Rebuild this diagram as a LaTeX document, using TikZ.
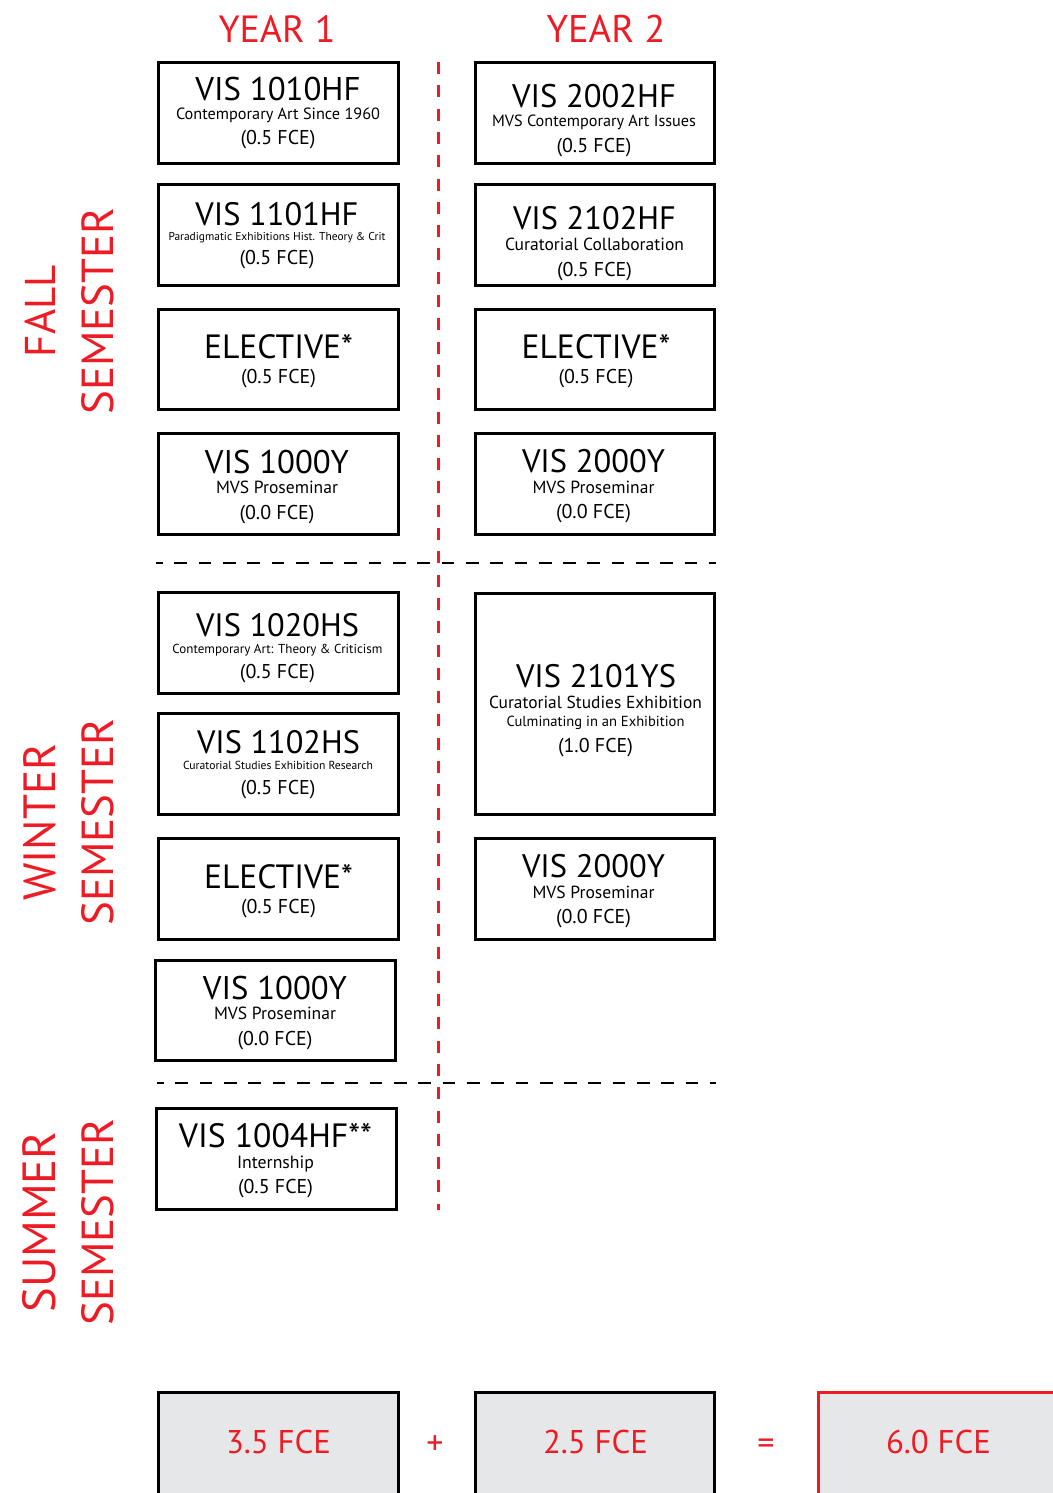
\documentclass[tikz,border=0pt]{standalone}
\usepackage{fontspec}
\setmainfont{PT Sans}
\usepackage{graphicx}
\definecolor{myred}{HTML}{ED1C24}
\definecolor{mygray}{HTML}{E6E7E8}
\newcommand{\tw}[2]{\resizebox{#1pt}{!}{#2}}
\begin{document}
\begin{tikzpicture}[x=1pt,y=-1pt,
  box/.style={draw=black, line width=3pt, inner sep=0pt, minimum width=240pt, minimum height=101pt},
  rbox/.style={box, minimum width=239pt},
  sumbox/.style={box, fill=mygray, minimum height=120pt},
  totbox/.style={sumbox, draw=myred},
  txt/.style={inner sep=0pt, outer sep=0pt, anchor=base, font=\fontsize{20}{24}\selectfont},
  rtxt/.style={txt, text=myred},
  side/.style={rtxt, rotate=90},
  semline/.style={draw=black, line width=1.6pt, dash pattern=on 12.7pt off 11.6pt, dash phase=6pt},
  yearline/.style={draw=myred, line width=3pt, dash pattern=on 12pt off 11.3pt}]
\useasboundingbox (0,0) rectangle (1052,1493);

% headings
\node[rtxt] (y1) at (277,43) {\tw{117}{YEAR 1}};
\node[rtxt] (y2) at (606,43) {\tw{119}{YEAR 2}};

% side labels
\node[side] (fall) at (55,311) {\tw{92}{FALL}};
\node[side] (sem1) at (113,311) {\tw{207}{SEMESTER}};
\node[side] (wint) at (55,822) {\tw{157}{WINTER}};
\node[side] (sem2) at (113,822) {\tw{207}{SEMESTER}};
\node[side] (summ) at (55,1222) {\tw{181}{SUMMER}};
\node[side] (sem3) at (113,1222) {\tw{207}{SEMESTER}};

% separators
\coordinate (va) at (438,62);
\coordinate (vb) at (438,1210);
\draw[yearline] (va) -- (vb);
\coordinate (h1a) at (156,563);
\coordinate (h1b) at (716,563);
\draw[semline] (h1a) -- (h1b);
\coordinate (h2a) at (157,1083);
\coordinate (h2b) at (716,1083);
\draw[semline] (h2a) -- (h2b);

% ---- Year 1 boxes
\node[box] (L1) at (278.5,113) {};
\node[txt] (L1t) at (278,101) {\tw{165}{VIS 1010HF}};
\node[txt] (L1s) at (278,120) {\tw{204}{Contemporary Art Since 1960}};
\node[txt] (L1f) at (278,145) {\tw{75}{(0.5 FCE)}};

\node[box] (L2) at (278.5,235) {};
\node[txt] (L2t) at (277,225.5) {\tw{163}{VIS 1101HF}};
\node[txt] (L2s) at (277,240) {\tw{217}{Paradigmatic Exhibitions Hist. Theory \& Crit}};
\node[txt] (L2f) at (277,264) {\tw{75}{(0.5 FCE)}};

\node[box, minimum height=100pt] (L3) at (278.5,359.5) {};
\node[txt] (L3t) at (278.5,358) {\tw{149}{ELECTIVE*}};
\node[txt] (L3f) at (278.5,383) {\tw{75}{(0.5 FCE)}};

\node[box] (L4) at (278.5,484) {};
\node[txt] (L4t) at (277,473) {\tw{144}{VIS 1000Y}};
\node[txt] (L4s) at (277,493) {\tw{122}{MVS Proseminar}};
\node[txt] (L4f) at (277,519) {\tw{75}{(0.0 FCE)}};

\node[box] (L5) at (278.5,643) {};
\node[txt] (L5t) at (277.5,636.5) {\tw{163}{VIS 1020HS}};
\node[txt] (L5s) at (277.5,653) {\tw{210}{Contemporary Art: Theory \& Criticism}};
\node[txt] (L5f) at (277.5,678) {\tw{75}{(0.5 FCE)}};

\node[box] (L6) at (278.5,764) {};
\node[txt] (L6t) at (278.5,753.5) {\tw{163}{VIS 1102HS}};
\node[txt] (L6s) at (278,769) {\tw{190}{Curatorial Studies Exhibition Research}};
\node[txt] (L6f) at (278,794) {\tw{75}{(0.5 FCE)}};

\node[box] (L7) at (278.5,889) {};
\node[txt] (L7t) at (278.5,888) {\tw{149}{ELECTIVE*}};
\node[txt] (L7f) at (278.5,913) {\tw{75}{(0.5 FCE)}};

\node[box, minimum height=100pt] (L8) at (275.5,1010.5) {};
\node[txt] (L8t) at (275,999) {\tw{144}{VIS 1000Y}};
\node[txt] (L8s) at (275,1019) {\tw{122}{MVS Proseminar}};
\node[txt] (L8f) at (275,1045) {\tw{75}{(0.0 FCE)}};

\node[box] (L9) at (276.5,1159) {};
\node[txt] (L9t) at (275.5,1147) {\tw{193}{VIS 1004HF**}};
\node[txt] (L9s) at (275.5,1168) {\tw{77}{Internship}};
\node[txt] (L9f) at (275.5,1193) {\tw{75}{(0.5 FCE)}};

% ---- Year 2 boxes
\node[rbox] (R1) at (595,113) {};
\node[txt] (R1t) at (594,108) {\tw{164}{VIS 2002HF}};
\node[txt] (R1s) at (594,127) {\tw{204}{MVS Contemporary Art Issues}};
\node[txt] (R1f) at (594,152) {\tw{75}{(0.5 FCE)}};

\node[rbox] (R2) at (595,235) {};
\node[txt] (R2t) at (594.5,229) {\tw{163}{VIS 2102HF}};
\node[txt] (R2s) at (594.5,250) {\tw{179}{Curatorial Collaboration}};
\node[txt] (R2f) at (594.5,276) {\tw{75}{(0.5 FCE)}};

\node[rbox, minimum height=100pt] (R3) at (595,359.5) {};
\node[txt] (R3t) at (596,358) {\tw{149}{ELECTIVE*}};
\node[txt] (R3f) at (596,383) {\tw{75}{(0.5 FCE)}};

\node[rbox] (R4) at (595,484) {};
\node[txt] (R4t) at (593.5,472) {\tw{143}{VIS 2000Y}};
\node[txt] (R4s) at (593.5,493) {\tw{122}{MVS Proseminar}};
\node[txt] (R4f) at (593.5,518) {\tw{75}{(0.0 FCE)}};

\node[rbox, minimum height=221pt] (R5) at (595,704) {};
\node[txt] (R5t) at (596,687) {\tw{160}{VIS 2101YS}};
\node[txt] (R5s) at (595.5,708) {\tw{213}{Curatorial Studies Exhibition}};
\node[txt] (R5u) at (595.5,726) {\tw{178}{Culminating in an Exhibition}};
\node[txt] (R5f) at (595.5,752) {\tw{75}{(1.0 FCE)}};

\node[rbox] (R6) at (595,889) {};
\node[txt] (R6t) at (593.5,877) {\tw{143}{VIS 2000Y}};
\node[txt] (R6s) at (593.5,898) {\tw{122}{MVS Proseminar}};
\node[txt] (R6f) at (593.5,923) {\tw{75}{(0.0 FCE)}};

% ---- totals
\node[sumbox] (T1) at (278.5,1452.5) {};
\node[rtxt] (T1t) at (278.5,1453) {\tw{105}{3.5 FCE}};
\node[sumbox, minimum width=239pt] (T2) at (595,1452.5) {};
\node[rtxt] (T2t) at (595.5,1453) {\tw{105}{2.5 FCE}};
\node[totbox] (T3) at (938.5,1452.5) {};
\node[rtxt] (T3t) at (938.5,1453) {\tw{105}{6.0 FCE}};
\node[rtxt, anchor=center, font=\fontsize{34}{40}\selectfont] (plus) at (435,1445) {+};
\node[rtxt, anchor=center, font=\fontsize{34}{40}\selectfont] (eq) at (766,1447) {=};
\end{tikzpicture}
\end{document}
